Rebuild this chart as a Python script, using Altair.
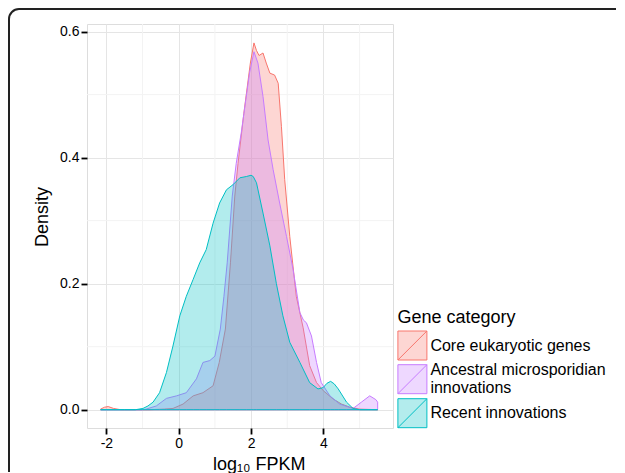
import altair as alt
import pandas as pd

# ---------------- data ----------------
CATEGORIES = ["Core eukaryotic genes", "Ancestral microsporidian innovations", "Recent innovations"]
COLORS = ["#F8766D", "#C77CFF", "#00BFC4"]
LIGHT = ["#FDD6D3", "#EED8FF", "#B3ECED"]

core_x = [-2.16, -2.05, -1.95, -1.8, -1.6, -1.2, -0.8, -0.4, -0.16, 0.12, 0.4, 0.67, 0.95, 1.12,
          1.29, 1.43, 1.55, 1.64, 1.8, 1.98, 2.08, 2.15, 2.22, 2.33, 2.42, 2.52, 2.65, 2.75, 2.84,
          2.93, 3.07, 3.25, 3.44, 3.62, 3.81, 4.0, 4.27, 4.5, 4.73, 5.0, 5.5]
core_y = [0.001, 0.004, 0.005, 0.002, 0.0, 0.0, 0.0, 0.001, 0.002, 0.009, 0.022, 0.027, 0.038, 0.075,
          0.128, 0.233, 0.339, 0.391, 0.47, 0.55, 0.582, 0.57, 0.562, 0.566, 0.55, 0.534, 0.531, 0.518, 0.449,
          0.365, 0.275, 0.18, 0.13, 0.07, 0.043, 0.03, 0.017, 0.009, 0.004, 0.001, 0.0]

anc_x = [-2.16, -1.5, -1.0, -0.9, -0.62, -0.34, -0.06, 0.21, 0.49, 0.67, 0.86, 1.0, 1.15, 1.25,
         1.34, 1.48, 1.59, 1.73, 1.85, 1.96, 2.08, 2.19, 2.33, 2.47, 2.61, 2.79, 2.98, 3.16, 3.35,
         3.45, 3.53, 3.67, 3.81, 3.94, 4.18, 4.45, 4.82, 5.05, 5.28, 5.45, 5.5]
anc_y = [0.0, 0.0, 0.0, 0.001, 0.006, 0.018, 0.022, 0.027, 0.049, 0.075, 0.078, 0.085, 0.128, 0.18,
         0.233, 0.339, 0.391, 0.44, 0.49, 0.535, 0.568, 0.55, 0.497, 0.428, 0.381, 0.328, 0.275, 0.223, 0.154,
         0.142, 0.138, 0.117, 0.075, 0.043, 0.022, 0.009, 0.002, 0.012, 0.022, 0.016, 0.012]

rec_x = [-2.16, -1.5, -1.2, -0.99, -0.85, -0.71, -0.53, -0.34, -0.16, 0.03, 0.21, 0.4, 0.58, 0.76,
         0.95, 1.13, 1.32, 1.5, 1.69, 1.87, 2.0, 2.06, 2.15, 2.33, 2.52, 2.7, 2.88, 3.07, 3.35, 3.62,
         3.85, 3.99, 4.1, 4.2, 4.3, 4.41, 4.64, 4.82, 5.0, 5.5]
rec_y = [0.0, 0.0, 0.0, 0.002, 0.006, 0.012, 0.027, 0.059, 0.101, 0.149, 0.18, 0.207, 0.233, 0.254,
         0.296, 0.328, 0.349, 0.357, 0.368, 0.370, 0.372, 0.370, 0.36, 0.312, 0.26, 0.2, 0.149, 0.107, 0.075, 0.043,
         0.033, 0.035, 0.042, 0.045, 0.041, 0.033, 0.012, 0.002, 0.0, 0.0]

x_major = [-2, 0, 2, 4]
x_minor = [-1, 1, 3, 5]
y_major = [0.0, 0.2, 0.4, 0.6]
y_minor = [0.1, 0.3, 0.5]

X_DOMAIN = [-2.536, 5.924]
Y_DOMAIN = [-0.029, 0.612]

FONT = "Liberation Sans"
W, H = 306, 404

series = [(core_x, core_y), (anc_x, anc_y), (rec_x, rec_y)]

xscale = alt.Scale(domain=X_DOMAIN, nice=False, zero=False)
yscale = alt.Scale(domain=Y_DOMAIN, nice=False, zero=False)

x_axis = alt.Axis(values=x_major, labelExpr="'' + datum.value", grid=True, gridColor="#e5e5e5",
                  gridWidth=1, domain=False, tickColor="black", tickWidth=1.8, tickSize=6,
                  labelFont=FONT, labelFontSize=14, labelColor="black", labelPadding=2,
                  title="log₁₀ FPKM", titleFont=FONT, titleFontSize=18, titleFontWeight="normal",
                  titleColor="black", titleX=171.7, titleY=41.7, titleBaseline="alphabetic",
                  titleAlign="center", titleAnchor="start")
y_axis = alt.Axis(values=y_major, format=".1f", grid=True, gridColor="#e5e5e5",
                  gridWidth=1, domain=False, tickColor="black", tickWidth=1.8, tickSize=6,
                  labelFont=FONT, labelFontSize=14, labelColor="black", labelPadding=2,
                  title="Density", titleFont=FONT, titleFontSize=18, titleFontWeight="normal",
                  titleColor="black", titleX=-39.6, titleY=192.4, titleAngle=270,
                  titleBaseline="alphabetic", titleAlign="center", titleAnchor="start")

minor_x = alt.Chart(pd.DataFrame({"v": x_minor})).mark_rule(color="#f3f3f3", strokeWidth=1).encode(
    x=alt.X("v:Q", scale=xscale, axis=x_axis))
minor_y = alt.Chart(pd.DataFrame({"v": y_minor})).mark_rule(color="#f3f3f3", strokeWidth=1).encode(
    y=alt.Y("v:Q", scale=yscale, axis=y_axis))

layers = [minor_x, minor_y]
for i, cat in enumerate(CATEGORIES):
    xs, ys = series[i]
    df = pd.DataFrame({"x": xs, "y": ys, "category": cat})
    area = alt.Chart(df).mark_area(
        fill=COLORS[i], stroke=COLORS[i], fillOpacity=0.3, strokeWidth=1, strokeOpacity=1
    ).encode(
        x=alt.X("x:Q", scale=xscale, axis=x_axis),
        y=alt.Y("y:Q", scale=yscale, axis=y_axis),
        y2=alt.datum(0),
    )
    layers.append(area)

# legend: one legend per entry so that each row can be placed like the reference
SYMBOL = "M-1,-1H1V1H-1Z M-1,1L1,-1"
legend_y = [284.5, 340.2, 374.2]
for i, cat in enumerate(CATEGORIES):
    common = dict(
        orient="none", legendX=310.4, legendY=legend_y[i], padding=0,
        symbolType=SYMBOL, symbolSize=841, symbolStrokeWidth=1,
        labelFont=FONT, labelFontSize=16, labelColor="black", labelLimit=400, labelOffset=3,
    )
    if i == 0:
        lg = alt.Legend(title="Gene category", titleFont=FONT, titleFontSize=18, titleColor="black",
                        titleFontWeight="normal", titlePadding=4, **common)
    elif i == 1:
        lg = alt.Legend(title=None, labelBaseline="line-bottom",
                        labelExpr="['Ancestral microsporidian', 'innovations']", **common)
    else:
        lg = alt.Legend(title=None, **common)
    leg_df = pd.DataFrame({"category": [cat], "x": [0.0], "y": [0.0]})
    leg = alt.Chart(leg_df).mark_point(filled=True, opacity=1, strokeWidth=1).encode(
        x=alt.X("x:Q", scale=xscale, axis=x_axis),
        y=alt.Y("y:Q", scale=yscale, axis=y_axis),
        fill=alt.Fill("category:N", scale=alt.Scale(domain=[cat], range=[LIGHT[i]]), legend=lg),
        stroke=alt.Stroke("category:N", scale=alt.Scale(domain=[cat], range=[COLORS[i]]), legend=lg),
    ).transform_filter("datum.x > 100")
    layers.append(leg)

# outer rounded frame: top and left edges kept inside the drawing, plus the corner arc
one = pd.DataFrame({"a": [0]})
frame_top = alt.Chart(one).mark_rule(stroke="#222222", strokeWidth=2).encode(
    x=alt.value(-68), x2=alt.value(529), y=alt.value(-15))
frame_left = alt.Chart(one).mark_rule(stroke="#222222", strokeWidth=2).encode(
    x=alt.value(-78), y=alt.value(-5), y2=alt.value(448))
frame_corner = alt.Chart(one).mark_arc(
    fill="#222222", x=-68, y=-5, theta=4.7124, theta2=6.2832, radius=11, radius2=9
)
layers += [frame_top, frame_left, frame_corner]

chart = alt.layer(*layers).resolve_scale(
    fill="independent", stroke="independent"
).properties(
    width=W, height=H,
    autosize=alt.AutoSizeParams(type="none"),
    padding={"left": 79, "top": 16, "right": 224, "bottom": 45},
).configure_view(stroke="#7f7f7f", strokeWidth=1).configure(background="white")

chart.save("out.html", embed_options={"renderer": "svg", "actions": False})
